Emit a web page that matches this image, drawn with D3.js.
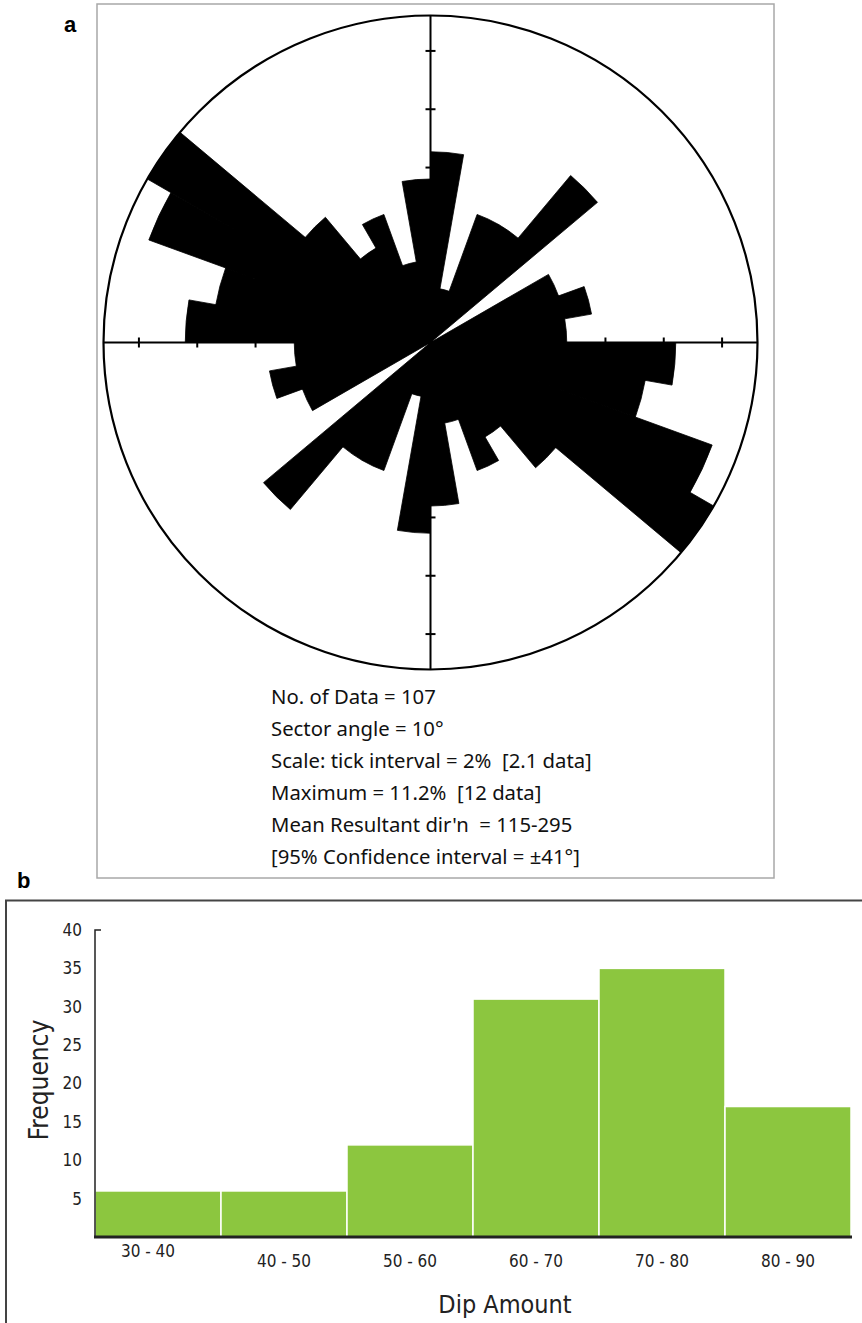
<!DOCTYPE html>
<html>
<head>
<meta charset="utf-8">
<script src="https://cdn.jsdelivr.net/npm/d3@7"></script>
<style>
  html, body { margin: 0; padding: 0; background: #fff; }
  svg { display: block; }
</style>
</head>
<body>
<svg id="fig" width="862" height="1323"></svg>
<script>
// ---- Rose diagram: strike directions in 10° sectors (axial data, 0–180°) ----
const sectorStart = [0, 10, 20, 30, 40, 50, 60, 70, 80, 90, 100, 110, 120, 130, 140, 150, 160, 170];
const sectorCounts = [7, 2, 5, 5, 8, 0, 5, 6, 5, 9, 8, 11, 12, 6, 4, 5, 3, 6];
const sectorWidth = 10;
const totalData = 107;
const tickPercents = [2, 4, 6, 8, 10];
const statsLines = [
  "No. of Data = 107",
  "Sector angle = 10°",
  "Scale: tick interval = 2%  [2.1 data]",
  "Maximum = 11.2%  [12 data]",
  "Mean Resultant dir'n  = 115-295",
  "[95% Confidence interval = ±41°]"
];

// ---- Histogram: dip amount classes ----
const dipClasses = ["30 - 40", "40 - 50", "50 - 60", "60 - 70", "70 - 80", "80 - 90"];
const dipFrequency = [6, 6, 12, 31, 35, 17];
const freqTicks = [5, 10, 15, 20, 25, 30, 35, 40];

const svg = d3.select("#fig");

// ================= Panel a =================
svg.append("text").attr("x", 64).attr("y", 32)
  .attr("font-family", "Liberation Sans, Arial, sans-serif")
  .attr("font-weight", "bold").attr("font-size", 22).text("a");

svg.append("rect").attr("x", 97).attr("y", 4).attr("width", 677).attr("height", 874)
  .attr("fill", "none").attr("stroke", "#a8a8a8").attr("stroke-width", 1.5);

const cx = 430.5, cy = 342.5, R = 327;
const maxCount = d3.max(sectorCounts);
const rCount = d3.scaleLinear().domain([0, maxCount]).range([0, R]);
const rPct = d3.scaleLinear().domain([0, maxCount / totalData * 100]).range([0, R]);
const toRad = d => d * Math.PI / 180;

const rose = svg.append("g").attr("transform", `translate(${cx},${cy})`);

// each sector is plotted twice (direction and its opposite)
const petals = [];
sectorStart.forEach((s, i) => {
  petals.push({ a0: s, a1: s + sectorWidth, n: sectorCounts[i] });
  petals.push({ a0: s + 180, a1: s + 180 + sectorWidth, n: sectorCounts[i] });
});

const arc = d3.arc()
  .innerRadius(0)
  .outerRadius(d => rCount(d.n))
  .startAngle(d => toRad(d.a0))
  .endAngle(d => toRad(d.a1));

// all petals in one path; a hairline stroke closes seams between neighbours
rose.append("path")
  .attr("d", petals.filter(d => d.n > 0).map(d => arc(d)).join(""))
  .attr("fill", "#000").attr("stroke", "#000").attr("stroke-width", 0.8)
  .attr("stroke-linejoin", "miter");

// cross-hair axes with percentage ticks
const axisStroke = "#000";
rose.append("line").attr("x1", -R).attr("x2", R).attr("y1", 0).attr("y2", 0)
  .attr("stroke", axisStroke).attr("stroke-width", 2);
rose.append("line").attr("y1", -R).attr("y2", R).attr("x1", 0).attr("x2", 0)
  .attr("stroke", axisStroke).attr("stroke-width", 2);

const tickLen = 5;
const tickDirs = [[1, 0], [-1, 0], [0, 1], [0, -1]];
tickDirs.forEach(([dx, dy]) => {
  rose.selectAll(null).data(tickPercents).join("line")
    .attr("x1", p => dx * rPct(p) - dy * tickLen)
    .attr("x2", p => dx * rPct(p) + dy * tickLen)
    .attr("y1", p => dy * rPct(p) - dx * tickLen)
    .attr("y2", p => dy * rPct(p) + dx * tickLen)
    .attr("stroke", axisStroke).attr("stroke-width", 2);
});

rose.append("circle").attr("r", R).attr("fill", "none")
  .attr("stroke", "#000").attr("stroke-width", 2.2);

// summary statistics
svg.append("g").selectAll("text").data(statsLines).join("text")
  .attr("x", 271).attr("y", (d, i) => 704 + i * 32)
  .attr("font-family", "Noto Sans, Open Sans, sans-serif")
  .attr("font-size", 20.3).attr("fill", "#111")
  .attr("xml:space", "preserve").style("white-space", "pre")
  .text(d => d);

// ================= Panel b =================
svg.append("text").attr("x", 17).attr("y", 888)
  .attr("font-family", "Liberation Sans, Arial, sans-serif")
  .attr("font-weight", "bold").attr("font-size", 22).text("b");

svg.append("path").attr("d", "M6,1330 V900.5 H870")
  .attr("fill", "none").attr("stroke", "#444").attr("stroke-width", 2);

const x = d3.scaleBand().domain(dipClasses).range([95, 851]).padding(0);
const y = d3.scaleLinear().domain([0, 40]).range([1237, 930]);

svg.append("g").selectAll("rect").data(dipClasses).join("rect")
  .attr("x", d => x(d)).attr("width", x.bandwidth())
  .attr("y", (d, i) => y(dipFrequency[i]))
  .attr("height", (d, i) => y(0) - y(dipFrequency[i]))
  .attr("fill", "#8cc63f").attr("stroke", "#fff").attr("stroke-width", 1.5);

const condensed = "Liberation Sans Narrow, DejaVu Sans Condensed, sans-serif";

const yAxis = svg.append("g").attr("transform", `translate(95,0)`)
  .call(d3.axisLeft(y).tickValues(freqTicks).tickSize(0).tickPadding(13));
yAxis.select(".domain").remove();
yAxis.selectAll("text").attr("font-family", condensed).attr("font-size", 17).attr("fill", "#222");
svg.append("path").attr("d", `M101,${y(40)} H95 V${y(0)}`)
  .attr("fill", "none").attr("stroke", "#222").attr("stroke-width", 1.5);

const xAxis = svg.append("g").attr("transform", `translate(0,${y(0)})`)
  .call(d3.axisBottom(x).tickSize(0).tickPadding(18));
xAxis.select(".domain").remove();
xAxis.selectAll("text").attr("font-family", condensed).attr("font-size", 17).attr("fill", "#222");
xAxis.selectAll(".tick").filter((d, i) => i === 0).select("text")
  .attr("dx", -10).attr("dy", "0.1em");
svg.append("line").attr("x1", 94).attr("x2", 852).attr("y1", y(0)).attr("y2", y(0))
  .attr("stroke", "#222").attr("stroke-width", 3);

svg.append("text").attr("x", 505).attr("y", 1313).attr("text-anchor", "middle")
  .attr("font-family", condensed).attr("font-size", 25).attr("fill", "#222").text("Dip Amount");
svg.append("text").attr("transform", "translate(48,1080) rotate(-90)").attr("text-anchor", "middle")
  .attr("font-family", condensed).attr("font-size", 26).attr("fill", "#222").text("Frequency");
</script>
</body>
</html>
